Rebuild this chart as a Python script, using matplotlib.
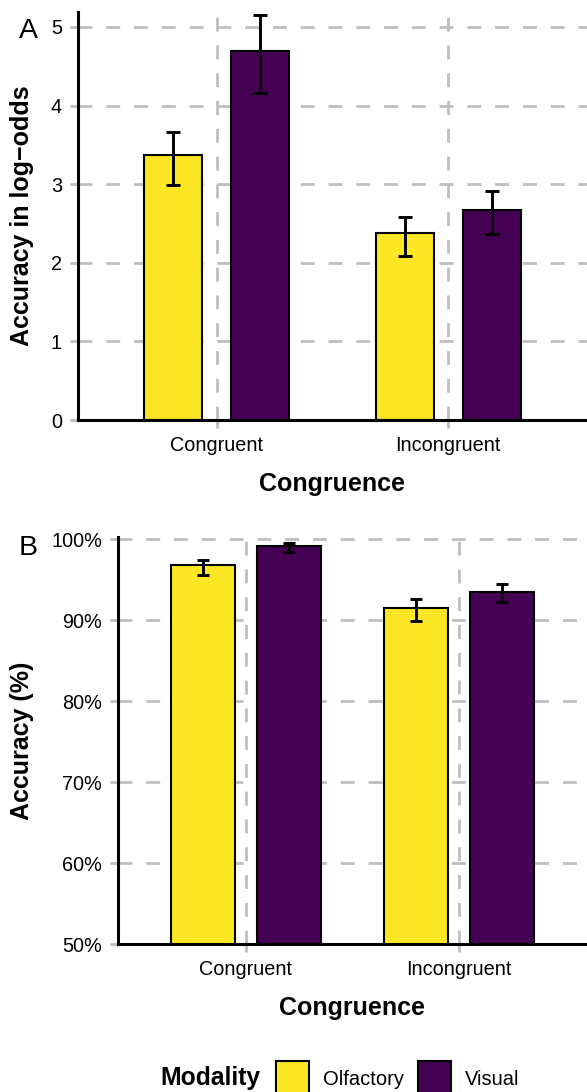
import matplotlib
matplotlib.use('Agg')
import matplotlib.pyplot as plt
from matplotlib.patches import Patch
import numpy as np

plt.rcParams['font.family'] = ['Liberation Sans', 'DejaVu Sans']

# Данные
congruence = ['Congruent', 'Incongruent']
modality = ['Olfactory', 'Visual']
colors = ['#FDE725', '#440154']

# Панель A: точность в лог-шансах
logodds_mean = {'Olfactory': [3.37, 2.38], 'Visual': [4.70, 2.67]}
logodds_low = {'Olfactory': [2.99, 2.09], 'Visual': [4.16, 2.36]}
logodds_high = {'Olfactory': [3.66, 2.58], 'Visual': [5.15, 2.91]}

# Панель B: точность в процентах
pct_mean = {'Olfactory': [96.8, 91.5], 'Visual': [99.2, 93.5]}
pct_low = {'Olfactory': [95.6, 89.9], 'Visual': [98.4, 92.2]}
pct_high = {'Olfactory': [97.4, 92.6], 'Visual': [99.5, 94.5]}

GRID = '#BEBEBE'
W, H = 587, 1092

fig = plt.figure(figsize=(W / 100, H / 100), dpi=100)


def px_axes(l, t, r, b):
    return fig.add_axes([l / W, 1 - b / H, (r - l) / W, (b - t) / H])


def style_axes(ax):
    for s in ['top', 'right']:
        ax.spines[s].set_visible(False)
    for s in ['left', 'bottom']:
        ax.spines[s].set_linewidth(2.2)
        ax.spines[s].set_color('black')
        ax.spines[s].set_zorder(5)
    ax.set_axisbelow(True)
    ax.grid(True, color=GRID, linewidth=2, linestyle=(0, (5, 5)))
    ax.tick_params(color=GRID, length=5.5, width=2, labelsize=14.3, pad=6,
                   labelcolor='black')
    ax.set_xlim(-0.6, 1.6)
    x = np.arange(len(congruence))
    ax.set_xticks(x)
    ax.set_xticklabels(congruence)


def draw_bars(ax, means, lows, highs, width, offset, capsize):
    x = np.arange(len(congruence))
    for i, m in enumerate(modality):
        pos = x + (i - 0.5) * 2 * offset
        mean = np.array(means[m])
        err = [mean - np.array(lows[m]), np.array(highs[m]) - mean]
        ax.bar(pos, mean, width=width, color=colors[i], edgecolor='black',
               linewidth=1.5, zorder=2)
        ax.errorbar(pos, mean, yerr=err, fmt='none', ecolor='black',
                    elinewidth=2.1, capsize=capsize, capthick=2.1, zorder=3)


# Панель A
axA = px_axes(78, 12, 587, 420)
style_axes(axA)
draw_bars(axA, logodds_mean, logodds_low, logodds_high, 0.25, 0.188, 4.7)
axA.set_ylim(0, 5.19)
axA.set_yticks([0, 1, 2, 3, 4, 5])
axA.set_ylabel('Accuracy in log\u2212odds', fontsize=18, fontweight='bold')
axA.yaxis.set_label_coords((22 - 78) / 509, 0.5)
axA.set_xlabel('Congruence', fontsize=18, fontweight='bold')
axA.xaxis.set_label_coords(0.5, -(484 - 420) / 408)
axA.xaxis.label.set_va('center')
axA.yaxis.label.set_va('center')

# Панель B
axB = px_axes(118, 537, 587, 944)
style_axes(axB)
draw_bars(axB, pct_mean, pct_low, pct_high, 0.30, 0.20, 4.0)
axB.set_ylim(50, 100.25)
yt = [50, 60, 70, 80, 90, 100]
axB.set_yticks(yt)
axB.set_yticklabels([f'{v}%' for v in yt])
axB.set_ylabel('Accuracy (%)', fontsize=18, fontweight='bold')
axB.yaxis.set_label_coords((22 - 118) / 469, 0.5)
axB.set_xlabel('Congruence', fontsize=18, fontweight='bold')
axB.xaxis.set_label_coords(0.5, -(1008 - 944) / 407)
axB.xaxis.label.set_va('center')
axB.yaxis.label.set_va('center')

# Буквы панелей
fig.text(19 / W, 1 - 31 / H, 'A', fontsize=20.5, va='center', ha='left')
fig.text(19 / W, 1 - 548 / H, 'B', fontsize=20.5, va='center', ha='left')

# Легенда
fig.text(160 / W, 1 - 1078 / H, 'Modality', fontsize=17.8, fontweight='bold',
         va='center', ha='left')
handles = [Patch(facecolor=c, edgecolor='black', linewidth=1.5) for c in colors]
fig.legend(handles, modality, loc='upper left',
           bbox_to_anchor=(276 / W, 1 - 1061 / H), ncol=2, frameon=False,
           fontsize=14.5, handlelength=1.64, handleheight=2.3,
           handletextpad=0.7, columnspacing=0.7, borderpad=0,
           borderaxespad=0)

fig.savefig('out.png', dpi=100)
